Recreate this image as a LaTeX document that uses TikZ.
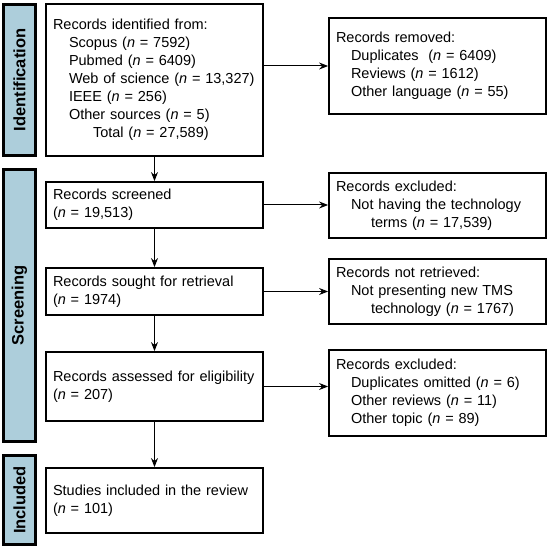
\documentclass[tikz,border=0pt]{standalone}
\usepackage{fontspec}
\setmainfont{Liberation Sans}
\usetikzlibrary{arrows.meta}

\definecolor{stageblue}{HTML}{ADCEDB}

\begin{document}
\begin{tikzpicture}[>={Stealth[length=9pt,width=7pt]}, font=\fontsize{14.5}{18}\selectfont,
    recordbox/.style={draw, rectangle, line width=1.8pt, align=left, text width=203pt, inner xsep=7pt, minimum height=#1},
    removedbox/.style={draw, rectangle, line width=1.8pt, align=left, text width=203pt, inner xsep=7pt, minimum height=#1},
    stagebox/.style={draw, rectangle, line width=3pt, fill=stageblue, rotate=90, minimum height=32pt, minimum width=#1, font=\bfseries\fontsize{16.5}{18}\selectfont},
    flow/.style={->, line width=1pt}]
    \useasboundingbox (0,0) rectangle (550pt,-548pt);

    \node (found) [recordbox=152pt] at (154.5pt,-80pt) {Records identified from:\\%
        \hspace*{16pt}Scopus (\textit{n} = 7592)\\%
        \hspace*{16pt}Pubmed (\textit{n} = 6409)\\%
        \hspace*{16pt}Web of science (\textit{n} = 13,327)\\%
        \hspace*{16pt}IEEE (\textit{n} = 256)\\%
        \hspace*{16pt}Other sources (\textit{n} = 5)\\%
        \hspace*{40pt}Total (\textit{n} = 27,589)};
    \node (screened) [recordbox=46pt, below of=found, node distance=125pt] {Records screened\\(\textit{n} = 19,513)};
    \node (sought) [recordbox=47pt, below of=screened, node distance=86.5pt] {Records sought for retrieval\\(\textit{n} = 1974)};
    \node (assessed) [recordbox=69pt, below of=sought, node distance=95pt] {Records assessed for eligibility\\(\textit{n} = 207)};
    \node (included) [recordbox=65pt, below of=assessed, node distance=114pt] {Studies included in the review\\(\textit{n} = 101)};

    \node (removed) [removedbox=96pt, right of=found, node distance=283pt, yshift=14pt] {Records removed:\\%
        \hspace*{15pt}Duplicates~ (\textit{n} = 6409)\\%
        \hspace*{15pt}Reviews (\textit{n} = 1612)\\%
        \hspace*{15pt}Other language (\textit{n} = 55)};
    \node (notterms) [removedbox=65pt, right of=screened, node distance=283pt, yshift=-0.5pt] {Records excluded:\\%
        \hspace*{15pt}Not having the technology\\%
        \hspace*{35pt}terms (\textit{n} = 17,539)};
    \node (notretrieved) [removedbox=65pt, right of=sought, node distance=283pt] {Records not retrieved:\\%
        \hspace*{15pt}Not presenting new TMS\\%
        \hspace*{35pt}technology (\textit{n} = 1767)};
    \node (excluded) [removedbox=86pt, right of=assessed, node distance=283pt, yshift=-6.5pt] {Records excluded:\\%
        \hspace*{15pt}Duplicates omitted (\textit{n} = 6)\\%
        \hspace*{15pt}Other reviews (\textit{n} = 11)\\%
        \hspace*{15pt}Other topic (\textit{n} = 89)};

    % stage labels down the left side
    \node (identification) [left of=found, node distance=135pt, stagebox=151pt] {Identification};
    \node (screening) [left of=sought, node distance=135pt, yshift=-14pt, stagebox=272pt] {Screening};
    \node (inclusion) [left of=included, node distance=135pt, yshift=0.5pt, stagebox=89pt] {Included};

    \draw[flow] (found) -- (screened);
    \draw[flow] (screened) -- (sought);
    \draw[flow] (sought) -- (assessed);
    \draw[flow] (assessed) -- (included);
    \draw[flow] (removed.west -| found.east) -- (removed.west);
    \draw[flow] (screened.east) -- (screened.east -| notterms.west);
    \draw[flow] (sought.east) -- (sought.east -| notretrieved.west);
    \draw[flow] (assessed.east) -- (assessed.east -| excluded.west);
\end{tikzpicture}
\end{document}
